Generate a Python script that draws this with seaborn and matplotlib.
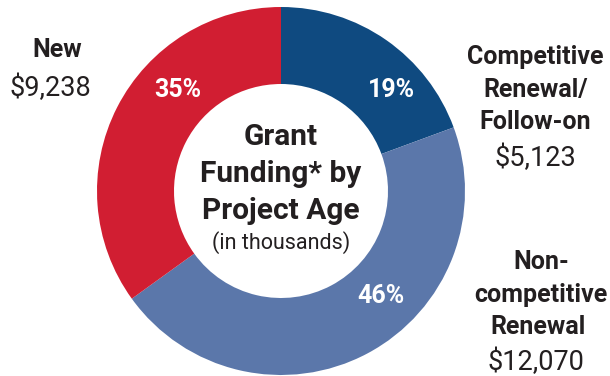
import matplotlib
matplotlib.use("Agg")
import matplotlib.pyplot as plt
import seaborn as sns

categories = ["Competitive Renewal/Follow-on", "Non-competitive Renewal", "New"]
values = [5123, 12070, 9238]
pct_labels = ["19%", "46%", "35%"]
value_labels = ["$5,123", "$12,070", "$9,238"]
colors = ["#0f4a80", "#5b77aa", "#d11e32"]

sns.set_theme(style="white")
plt.rcParams['font.family'] = ['Roboto', 'DejaVu Sans']

W, H = 610, 376
fig = plt.figure(figsize=(W / 100, H / 100), dpi=100)
fig.patch.set_facecolor("white")

cx, cy, R, r = 281, 191, 184, 107
ax = fig.add_axes([(cx - R) / W, (H - cy - R) / H, 2 * R / W, 2 * R / H])
ax.pie(values, colors=colors, startangle=90, counterclock=False, radius=1,
       wedgeprops=dict(width=1 - r / R, linewidth=0, edgecolor="none"))
ax.set_xlim(-1, 1)
ax.set_ylim(-1, 1)
ax.set_aspect("equal")
ax.axis("off")

# percent labels inside ring
pct_pos = [(392, 90), (381, 296), (178, 90)]
for lab, (x, y) in zip(pct_labels, pct_pos):
    fig.text(x / W, 1 - y / H, lab, ha="center", va="center", color="white",
             fontsize=18, fontweight="bold")

tc = "#231f20"
def ft(x, y, s, **kw):
    fig.text(x / W, 1 - y / H, s, ha="center", va="center", color=tc, **kw)

# center title
ft(281, 137, "Grant", fontsize=21.5, fontweight="bold")
ft(281, 174, "Funding* by", fontsize=21.5, fontweight="bold")
ft(281, 211, "Project Age", fontsize=21.5, fontweight="bold")
ft(281, 243, "(in thousands)", fontsize=15.5)

# side labels
fs = 18
fv = 19.5
ft(57, 50, "New", fontsize=fs, fontweight="bold")
ft(50, 88, value_labels[2], fontsize=fv)

ft(535, 57, "Competitive", fontsize=fs, fontweight="bold")
ft(536, 90, "Renewal/", fontsize=fs, fontweight="bold")
ft(535, 122, "Follow-on", fontsize=fs, fontweight="bold")
ft(535, 158, value_labels[0], fontsize=fv)

ft(541, 262, "Non-", fontsize=fs, fontweight="bold")
ft(541, 295, "competitive", fontsize=fs, fontweight="bold")
ft(538, 327, "Renewal", fontsize=fs, fontweight="bold")
ft(536, 362, value_labels[1], fontsize=fv)

fig.savefig("out.png", dpi=100, facecolor="white")
